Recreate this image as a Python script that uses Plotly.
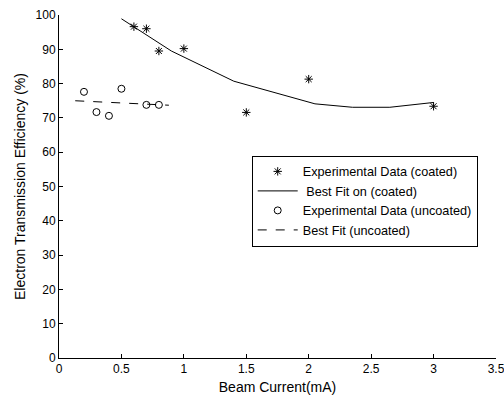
import plotly.graph_objects as go

coated_x = [0.6, 0.7, 0.8, 1.0, 1.5, 2.0, 3.0]
coated_y = [96.6, 96.0, 89.5, 90.2, 71.6, 81.3, 73.4]
fit_coated_x = [0.5, 0.9, 1.4, 2.05, 2.35, 2.65, 3.0]
fit_coated_y = [98.9, 89.5, 80.7, 74.1, 73.1, 73.1, 74.5]
uncoated_x = [0.2, 0.3, 0.4, 0.5, 0.7, 0.8]
uncoated_y = [77.6, 71.7, 70.6, 78.5, 73.8, 73.8]
fit_uncoated_x = [0.13, 0.5, 0.88]
fit_uncoated_y = [75.0, 74.4, 73.7]

font = "Liberation Sans, Arial, sans-serif"

fig = go.Figure()
fig.add_trace(go.Scatter(x=coated_x, y=coated_y, mode="markers",
                         name="Experimental Data (coated)",
                         marker=dict(symbol="asterisk-open", size=7, color="black",
                                     line=dict(color="black", width=1))))
fig.add_trace(go.Scatter(x=fit_coated_x, y=fit_coated_y, mode="lines",
                         name=" Best Fit on (coated)",
                         line=dict(color="black", width=1)))
fig.add_trace(go.Scatter(x=uncoated_x, y=uncoated_y, mode="markers",
                         name="Experimental Data (uncoated)",
                         marker=dict(symbol="circle-open", size=7, color="black",
                                     line=dict(color="black", width=1))))
fig.add_trace(go.Scatter(x=fit_uncoated_x, y=fit_uncoated_y, mode="lines",
                         name="Best Fit (uncoated)",
                         line=dict(color="black", width=1, dash="dash")))

fig.update_layout(
    width=504, height=401,
    margin=dict(l=59, r=8, t=15, b=43),
    paper_bgcolor="white", plot_bgcolor="white",
    font=dict(family=font, size=12, color="black"),
    showlegend=True,
    legend=dict(x=0.441, y=0.59, xanchor="left", yanchor="top",
                bordercolor="black", borderwidth=1, bgcolor="white",
                font=dict(size=12.7), tracegroupgap=0, itemwidth=40),
)
fig.update_xaxes(range=[0, 3.5], tickmode="array",
                 tickvals=[0, 0.5, 1, 1.5, 2, 2.5, 3, 3.5],
                 ticktext=["0", "0.5", "1", "1.5", "2", "2.5", "3", "3.5"],
                 ticks="inside", ticklen=4, tickcolor="black",
                 ticklabeloverflow="allow",
                 showline=True, linecolor="black", linewidth=1,
                 showgrid=False, zeroline=False, automargin=False,
                 title=dict(text="Beam Current(mA)", standoff=6))
fig.update_yaxes(range=[0, 100], tickmode="array",
                 tickvals=list(range(0, 101, 10)),
                 ticks="inside", ticklen=4, tickcolor="black",
                 ticklabeloverflow="allow",
                 showline=True, linecolor="black", linewidth=1,
                 showgrid=False, zeroline=False, automargin=False,
                 title=dict(text="Electron Transmission Efficiency (%)", standoff=6))

fig.write_html("out.html", config={"displayModeBar": False},
               post_script="document.body.style.margin='0';document.body.style.overflow='hidden';")
